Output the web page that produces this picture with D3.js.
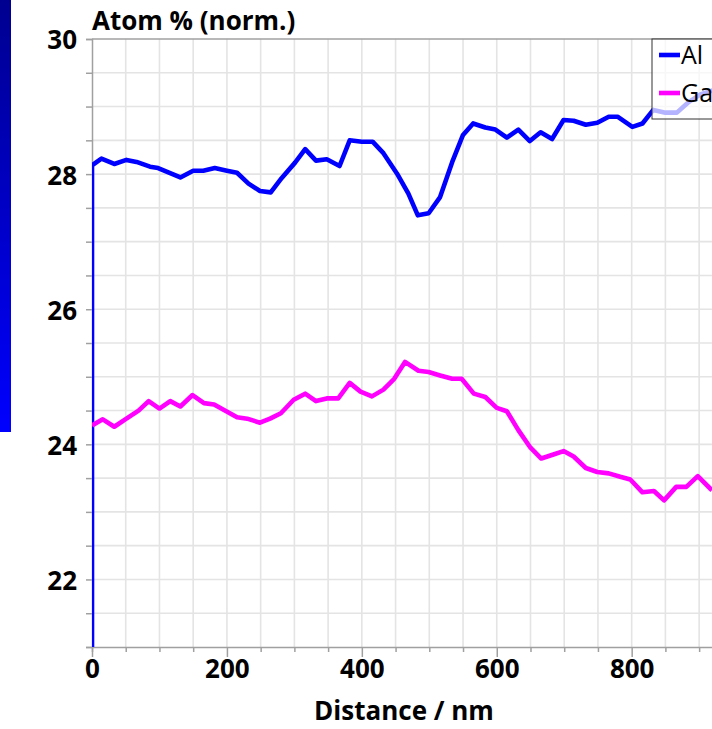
<!DOCTYPE html>
<html>
<head>
<meta charset="utf-8">
<script src="https://cdn.jsdelivr.net/npm/d3@7"></script>
<style>
  html, body { margin: 0; padding: 0; background: #fff; }
  svg { display: block; }
  text { font-family: "Open Sans", "DejaVu Sans", sans-serif; }
</style>
</head>
<body>
<svg id="chart" width="712" height="729"></svg>
<script>
// Depth profile: distance along the scan (nm) and normalised atom %
const alDistance = [0, 0, 14, 33, 51, 66, 86, 98, 131, 150, 165, 182, 200, 215, 232, 249, 265, 281, 301, 316, 332, 348, 367, 382, 400, 416, 432, 452, 469, 483, 499, 516, 534, 550, 565, 583, 598, 615, 632, 649, 665, 682, 699, 714, 732, 749, 766, 779, 801, 816, 832, 850, 867, 885, 902, 920];
const alValue    = [0, 28.13, 28.23, 28.15, 28.21, 28.18, 28.11, 28.09, 27.95, 28.05, 28.05, 28.09, 28.05, 28.02, 27.86, 27.75, 27.73, 27.94, 28.17, 28.37, 28.20, 28.22, 28.12, 28.50, 28.48, 28.48, 28.31, 28.01, 27.71, 27.39, 27.42, 27.66, 28.18, 28.58, 28.75, 28.69, 28.66, 28.54, 28.66, 28.49, 28.62, 28.52, 28.80, 28.79, 28.73, 28.76, 28.85, 28.85, 28.70, 28.75, 28.95, 28.91, 28.91, 29.07, 29.18, 29.24];

const gaDistance = [0, 16, 33, 51, 69, 84, 100, 116, 131, 149, 166, 181, 197, 215, 230, 249, 264, 280, 299, 316, 332, 348, 365, 382, 398, 415, 432, 448, 464, 484, 499, 516, 534, 548, 566, 583, 600, 615, 632, 650, 666, 684, 699, 714, 732, 749, 766, 783, 798, 816, 833, 848, 866, 881, 898, 919];
const gaValue    = [24.28, 24.37, 24.26, 24.38, 24.50, 24.64, 24.53, 24.64, 24.56, 24.73, 24.61, 24.59, 24.50, 24.40, 24.38, 24.32, 24.38, 24.46, 24.66, 24.75, 24.64, 24.68, 24.68, 24.91, 24.78, 24.71, 24.81, 24.97, 25.22, 25.09, 25.07, 25.02, 24.97, 24.97, 24.75, 24.70, 24.54, 24.49, 24.21, 23.95, 23.79, 23.85, 23.90, 23.82, 23.65, 23.59, 23.57, 23.52, 23.48, 23.29, 23.31, 23.17, 23.37, 23.37, 23.53, 23.32];

const seriesNames  = ["Al", "Ga"];
const seriesColors = ["#0000ff", "#ff00ff"];

const yLabelTicks = [22, 24, 26, 28, 30];
const xLabelTicks = [0, 200, 400, 600, 800];

const yTitle = "Atom % (norm.)";
const xTitle = "Distance / nm";

const svg = d3.select("#chart");
const plotL = 92, plotR = 716, plotT = 39, plotB = 647;

const x = d3.scaleLinear().domain([0, 925]).range([plotL, plotR]);
const y = d3.scaleLinear().domain([21, 30]).range([plotB, plotT]);

// side banner
const defs = svg.append("defs");
const grad = defs.append("linearGradient").attr("id", "band")
  .attr("x1", 0).attr("y1", 0).attr("x2", 0).attr("y2", 1);
grad.append("stop").attr("offset", "0%").attr("stop-color", "#000090");
grad.append("stop").attr("offset", "100%").attr("stop-color", "#0000ff");
svg.append("rect").attr("x", 0).attr("y", 0).attr("width", 11).attr("height", 432)
  .attr("fill", "url(#band)");

defs.append("clipPath").attr("id", "plotClip")
  .append("rect").attr("x", plotL).attr("y", plotT)
  .attr("width", plotR - plotL).attr("height", plotB - plotT);

// grid
const xGrid = d3.range(50, 925, 50);
const yGrid = d3.range(21.5, 30, 0.5);
svg.append("g").selectAll("line").data(xGrid).join("line")
  .attr("x1", d => x(d)).attr("x2", d => x(d))
  .attr("y1", plotT).attr("y2", plotB)
  .attr("stroke", "#e4e4e4").attr("stroke-width", 1.6);
svg.append("g").selectAll("line").data(yGrid).join("line")
  .attr("x1", plotL).attr("x2", plotR)
  .attr("y1", d => y(d)).attr("y2", d => y(d))
  .attr("stroke", "#e4e4e4").attr("stroke-width", 1.6);

// frame top border
svg.append("line").attr("x1", plotL).attr("x2", plotR)
  .attr("y1", plotT).attr("y2", plotT)
  .attr("stroke", "#a0a0a0").attr("stroke-width", 1.5);

// y axis
const yAxis = d3.axisLeft(y)
  .tickValues(d3.range(21, 30.01, 0.5))
  .tickSize(6).tickPadding(9)
  .tickFormat(d => yLabelTicks.includes(d) ? d3.format("d")(d) : "");
const gy = svg.append("g").attr("transform", `translate(${plotL},0)`).call(yAxis);
gy.select(".domain").attr("stroke", "#a0a0a0").attr("stroke-width", 1.5);
gy.selectAll(".tick line").attr("stroke", "#a0a0a0").attr("stroke-width", 1.5);
gy.selectAll(".tick text")
  .attr("font-family", "'Open Sans', sans-serif")
  .attr("font-size", 26).attr("font-weight", "bold").attr("fill", "#000")
  .attr("dy", "0.38em");

// x axis
const xAxis = d3.axisBottom(x)
  .tickValues(d3.range(0, 925, 50))
  .tickSize(5).tickPadding(6)
  .tickFormat(d => xLabelTicks.includes(d) ? d3.format("d")(d) : "");
const gx = svg.append("g").attr("transform", `translate(0,${plotB})`).call(xAxis);
gx.select(".domain").attr("stroke", "#a0a0a0").attr("stroke-width", 1.5);
gx.selectAll(".tick line").attr("stroke", "#a0a0a0").attr("stroke-width", 1.5)
  .attr("y2", d => xLabelTicks.includes(d) ? 10 : 5);
gx.selectAll(".tick text")
  .attr("font-family", "'Open Sans', sans-serif")
  .attr("font-size", 26).attr("font-weight", "bold").attr("fill", "#000")
  .attr("y", 13);

// titles
svg.append("text").attr("x", plotL).attr("y", 30)
  .attr("font-size", 26).attr("font-weight", "bold").attr("fill", "#000")
  .text(yTitle);
svg.append("text").attr("x", 404).attr("y", 720)
  .attr("text-anchor", "middle")
  .attr("font-size", 26).attr("font-weight", "bold").attr("fill", "#000")
  .text(xTitle);

// data lines
const series = [
  { name: seriesNames[0], color: seriesColors[0], pts: alDistance.map((d, i) => [d, alValue[i]]) },
  { name: seriesNames[1], color: seriesColors[1], pts: gaDistance.map((d, i) => [d, gaValue[i]]) }
];
const line = d3.line().x(d => x(d[0])).y(d => y(d[1]));
const plot = svg.append("g").attr("clip-path", "url(#plotClip)");
plot.selectAll("path").data(series).join("path")
  .attr("d", d => line(d.pts))
  .attr("fill", "none")
  .attr("stroke", d => d.color)
  .attr("stroke-width", 4.6)
  .attr("stroke-linejoin", "round");

// legend
const lg = svg.append("g").attr("transform", `translate(652,${plotT})`);
lg.append("rect").attr("x", 0).attr("y", 0).attr("width", 120).attr("height", 80)
  .attr("fill", "#fff").attr("fill-opacity", 0.7)
  .attr("stroke", "#333").attr("stroke-width", 1);
series.forEach((s, i) => {
  const yy = 16 + i * 38;
  lg.append("line").attr("x1", 7).attr("x2", 28).attr("y1", yy).attr("y2", yy)
    .attr("stroke", s.color).attr("stroke-width", 4.6);
  lg.append("text").attr("x", 29).attr("y", yy).attr("dy", "0.36em")
    .attr("font-size", 25).attr("fill", "#000").text(s.name);
});
</script>
</body>
</html>
